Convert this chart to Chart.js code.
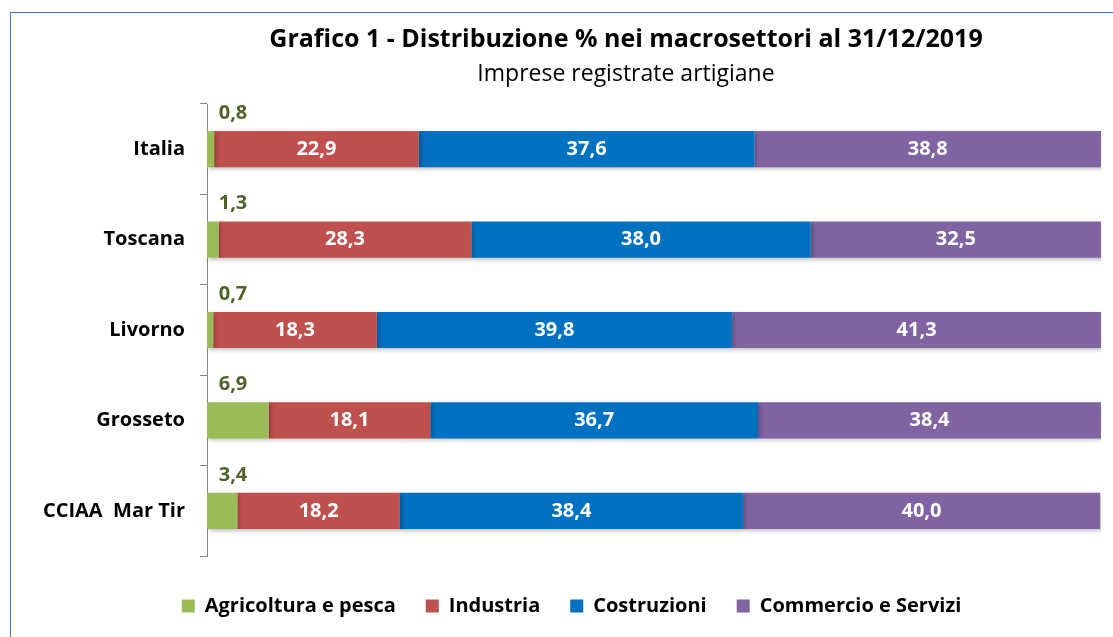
<!DOCTYPE html>
<html>
<head>
<meta charset="utf-8">
<script src="https://cdn.jsdelivr.net/npm/chart.js@4/dist/chart.umd.min.js"></script>
<style>
  html, body { margin: 0; padding: 0; background: #fff; overflow: hidden; }
  #frame { position: absolute; left: 10px; top: 12px; width: 1200px; height: 700px;
           border-top: 1.5px solid #4a7ebb; border-left: 1.5px solid #4a7ebb; }
  #wrap { position: absolute; left: 0; top: 0; width: 1113px; height: 637px; }
</style>
</head>
<body>
<div id="frame"></div>
<div id="wrap"><canvas id="chart"></canvas></div>
<script>
var categories = ['Italia', 'Toscana', 'Livorno', 'Grosseto', 'CCIAA  Mar Tir'];
var agricoltura = [0.8, 1.3, 0.7, 6.9, 3.4];
var industria = [22.9, 28.3, 18.3, 18.1, 18.2];
var costruzioni = [37.6, 38.0, 39.8, 36.7, 38.4];
var commercio = [38.8, 32.5, 41.3, 38.4, 40.0];
var seriesNames = ['Agricoltura e pesca', 'Industria', 'Costruzioni', 'Commercio e Servizi'];

var FONT = '"Open Sans"';
function fmt(v) { return v.toFixed(1).replace('.', ','); }

// titolo e sottotitolo centrati come nell'originale
var titlePlugin = {
  id: 'titoli',
  afterDraw: function(chart) {
    var ctx = chart.ctx;
    ctx.save();
    ctx.fillStyle = '#000';
    ctx.textAlign = 'center';
    ctx.textBaseline = 'middle';
    ctx.font = 'bold 25px ' + FONT;
    ctx.fillText('Grafico 1 - Distribuzione % nei macrosettori al 31/12/2019', 626, 40);
    ctx.font = '23px ' + FONT;
    ctx.fillText('Imprese registrate artigiane', 626, 74);
    ctx.restore();
  }
};

// ombra leggera sotto le barre
var shadowPlugin = {
  id: 'ombra',
  beforeDatasetsDraw: function(chart) {
    var ctx = chart.ctx;
    ctx.save();
    ctx.shadowColor = 'rgba(0,0,0,0.25)';
    ctx.shadowBlur = 4;
    ctx.shadowOffsetX = 2;
    ctx.shadowOffsetY = 2;
  },
  afterDatasetsDraw: function(chart) {
    chart.ctx.restore();
  }
};

// etichette dei valori
var labelPlugin = {
  id: 'etichette',
  afterDatasetsDraw: function(chart) {
    var ctx = chart.ctx;
    ctx.save();
    ctx.textAlign = 'center';
    ctx.textBaseline = 'middle';
    ctx.font = 'bold 20px ' + FONT;
    chart.data.datasets.forEach(function(ds, i) {
      var meta = chart.getDatasetMeta(i);
      meta.data.forEach(function(bar, j) {
        var v = ds.data[j];
        if (i === 0) {
          ctx.fillStyle = '#4f6228';
          ctx.fillText(fmt(v), bar.base + 26, bar.y - 36);
        } else {
          ctx.fillStyle = '#fff';
          ctx.fillText(fmt(v), (bar.base + bar.x) / 2, bar.y);
        }
      });
    });
    ctx.restore();
  }
};

var ctx = document.getElementById('chart').getContext('2d');
new Chart(ctx, {
  type: 'bar',
  data: {
    labels: categories,
    datasets: [
      { label: seriesNames[0], data: agricoltura, backgroundColor: '#9bbb59' },
      { label: seriesNames[1], data: industria, backgroundColor: '#c0504d' },
      { label: seriesNames[2], data: costruzioni, backgroundColor: '#0070c0' },
      { label: seriesNames[3], data: commercio, backgroundColor: '#8064a2' }
    ]
  },
  options: {
    indexAxis: 'y',
    responsive: true,
    maintainAspectRatio: false,
    animation: false,
    categoryPercentage: 1,
    barPercentage: 0.4,
    layout: { padding: { top: 104, left: 42, right: 12, bottom: 11 } },
    plugins: {
      title: { display: false },
      tooltip: { enabled: false },
      legend: {
        position: 'bottom',
        labels: {
          boxWidth: 13, boxHeight: 13, padding: 30, color: '#000',
          font: { family: FONT, size: 20, weight: 'bold' }
        }
      }
    },
    scales: {
      x: {
        stacked: true, min: 0, max: 100.1,
        ticks: { display: false },
        grid: { display: false },
        border: { display: false },
        afterFit: function(s) { s.height = 10; }
      },
      y: {
        stacked: true,
        afterFit: function(s) { s.width = 165; },
        ticks: { color: '#000', padding: 15, font: { family: FONT, size: 20, weight: 'bold' } },
        grid: { drawOnChartArea: false, drawTicks: true, tickLength: 7, color: '#868686' },
        border: { display: true, color: '#868686' }
      }
    }
  },
  plugins: [shadowPlugin, labelPlugin, titlePlugin]
});
</script>
</body>
</html>
